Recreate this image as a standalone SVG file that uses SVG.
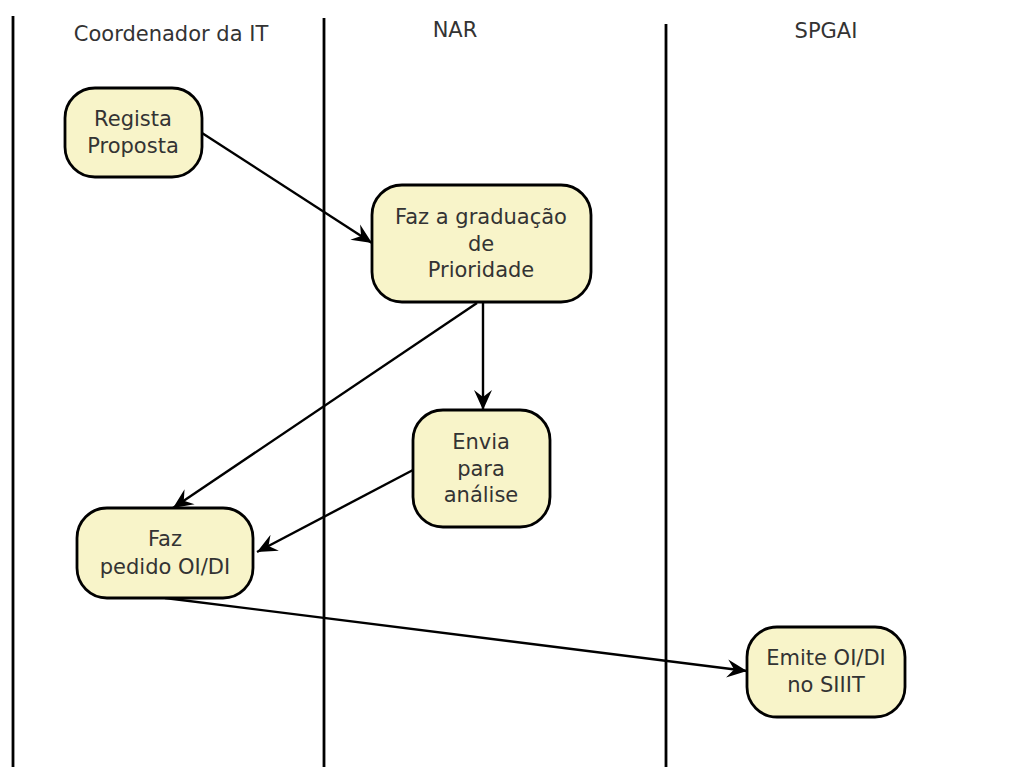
<svg xmlns="http://www.w3.org/2000/svg" width="1020" height="767" viewBox="0 0 1020 767">
<style>
.lane{stroke:#000;stroke-width:2.8;fill:none}
.node rect{fill:#f8f4c9;stroke:#000;stroke-width:2.8}
text{font-family:"DejaVu Sans",sans-serif;font-size:21px;fill:#333;text-anchor:middle}
.hdr{font-size:21px}
.conn path{stroke:#000;stroke-width:2.4;fill:none;marker-end:url(#arr)}
</style>
<defs>
<marker id="arr" markerUnits="userSpaceOnUse" markerWidth="22" markerHeight="20" refX="20" refY="10" orient="auto">
<path d="M0,1 L20,10 L0,19 L7,10 z" fill="#000"/>
</marker>
</defs>
<rect width="1020" height="767" fill="#fff"/>
<g id="lanes">
<line class="lane" x1="13" y1="16" x2="13" y2="767"/>
<line class="lane" x1="324" y1="18" x2="324" y2="767"/>
<line class="lane" x1="666" y1="24" x2="666" y2="767"/>
<text class="hdr" x="171" y="41">Coordenador da IT</text>
<text class="hdr" x="455" y="37">NAR</text>
<text class="hdr" x="826" y="38">SPGAI</text>
</g>
<g class="conn" id="connectors">
<path d="M202,133 L372,243"/>
<path d="M483,302 L483,410"/>
<path d="M477,303 L173,508"/>
<path d="M413,470 L257,552"/>
<path d="M165,598 L747,671"/>
</g>
<g class="node" id="regista">
<rect x="65" y="88" width="137" height="89" rx="30"/>
<text x="133" y="126">Regista</text>
<text x="133" y="153">Proposta</text>
</g>
<g class="node" id="graduacao">
<rect x="372" y="185" width="219" height="117" rx="30"/>
<text x="481" y="224">Faz a graduação</text>
<text x="481" y="251">de</text>
<text x="481" y="277">Prioridade</text>
</g>
<g class="node" id="envia">
<rect x="413" y="410" width="137" height="117" rx="30"/>
<text x="481" y="449">Envia</text>
<text x="481" y="476">para</text>
<text x="481" y="502">análise</text>
</g>
<g class="node" id="pedido">
<rect x="77" y="508" width="176" height="90" rx="30"/>
<text x="165" y="546">Faz</text>
<text x="165" y="574">pedido OI/DI</text>
</g>
<g class="node" id="emite">
<rect x="747" y="627" width="158" height="90" rx="30"/>
<text x="826" y="665">Emite OI/DI</text>
<text x="826" y="692">no SIIIT</text>
</g>
</svg>
